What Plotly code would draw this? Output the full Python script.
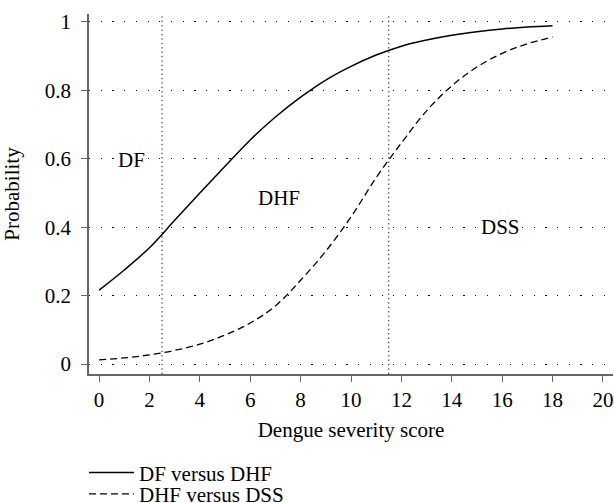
import plotly.graph_objects as go

score = list(range(0, 19))
df_vs_dhf = [0.216, 0.275, 0.34, 0.42, 0.50, 0.578, 0.655, 0.722, 0.78, 0.83, 0.87,
             0.903, 0.929, 0.947, 0.961, 0.971, 0.979, 0.985, 0.989]
dhf_vs_dss = [0.012, 0.018, 0.027, 0.04, 0.058, 0.085, 0.12, 0.17, 0.245, 0.33,
              0.43, 0.545, 0.646, 0.74, 0.813, 0.868, 0.908, 0.936, 0.956]
cutoffs = [2.5, 11.5]
region_labels = ["DF", "DHF", "DSS"]
region_x = [1.27, 7.13, 15.95]
region_y = [0.596, 0.484, 0.401]
x_ticks = list(range(0, 21, 2))
y_ticks = [0, 0.2, 0.4, 0.6, 0.8, 1]
y_tick_text = ["0", "0.2", "0.4", "0.6", "0.8", "1"]

FONT = "Liberation Serif"
FS = 21
fig = go.Figure()
fig.add_trace(go.Scatter(x=score, y=df_vs_dhf, mode="lines", name="DF versus DHF",
                         line=dict(color="black", width=1.5, shape="spline"),
                         legend="legend"))
fig.add_trace(go.Scatter(x=score, y=dhf_vs_dss, mode="lines", name="DHF versus DSS",
                         line=dict(color="black", width=1.3, dash="7px,4px", shape="spline"),
                         legend="legend2"))

for c in cutoffs:
    fig.add_shape(type="line", x0=c, x1=c, y0=0, y1=1, xref="x", yref="paper",
                  line=dict(color="black", width=1, dash="1.2px,3.2px"), layer="below")

for t, x, y in zip(region_labels, region_x, region_y):
    fig.add_annotation(x=x, y=y, text=t, showarrow=False,
                       font=dict(family=FONT, size=FS, color="black"),
                       bgcolor="white", borderpad=0)

axis_col = "#666666"
leg_common = dict(x=-0.0095, xanchor="left", yanchor="top",
                  bgcolor="rgba(0,0,0,0)", font=dict(family=FONT, size=FS),
                  tracegroupgap=0, itemwidth=45)
fig.update_layout(
    width=614, height=503,
    margin=dict(l=89, r=1, t=14, b=129, autoexpand=False),
    paper_bgcolor="white", plot_bgcolor="white",
    font=dict(family=FONT, size=FS, color="black"),
    showlegend=True,
    legend=dict(y=-0.2175, **leg_common),
    legend2=dict(y=-0.277, **leg_common),
    xaxis=dict(range=[-0.4, 20.4], tickvals=x_ticks, showgrid=False, zeroline=False,
               showline=True, linecolor=axis_col, linewidth=1.5,
               ticks="outside", ticklen=6, tickcolor=axis_col, tickwidth=1.2,
               ticklabelstandoff=0,
               title=dict(text="Dengue severity score", standoff=11,
                          font=dict(family=FONT, size=FS))),
    yaxis=dict(range=[-0.029, 1.023], tickvals=y_ticks, ticktext=y_tick_text,
               showgrid=True, gridcolor="black", gridwidth=1, griddash="1.2px,10.5px",
               zeroline=False, showline=True, linecolor=axis_col, linewidth=1.5,
               ticks="outside", ticklen=6, tickcolor=axis_col, tickwidth=1.2,
               ticklabelstandoff=6,
               title=dict(text="Probability", standoff=20,
                          font=dict(family=FONT, size=FS))),
)
fig.write_html(
    "out.html",
    config={"displayModeBar": False},
    post_script="document.body.style.margin='0';"
                "document.documentElement.style.overflow='hidden';",
)
